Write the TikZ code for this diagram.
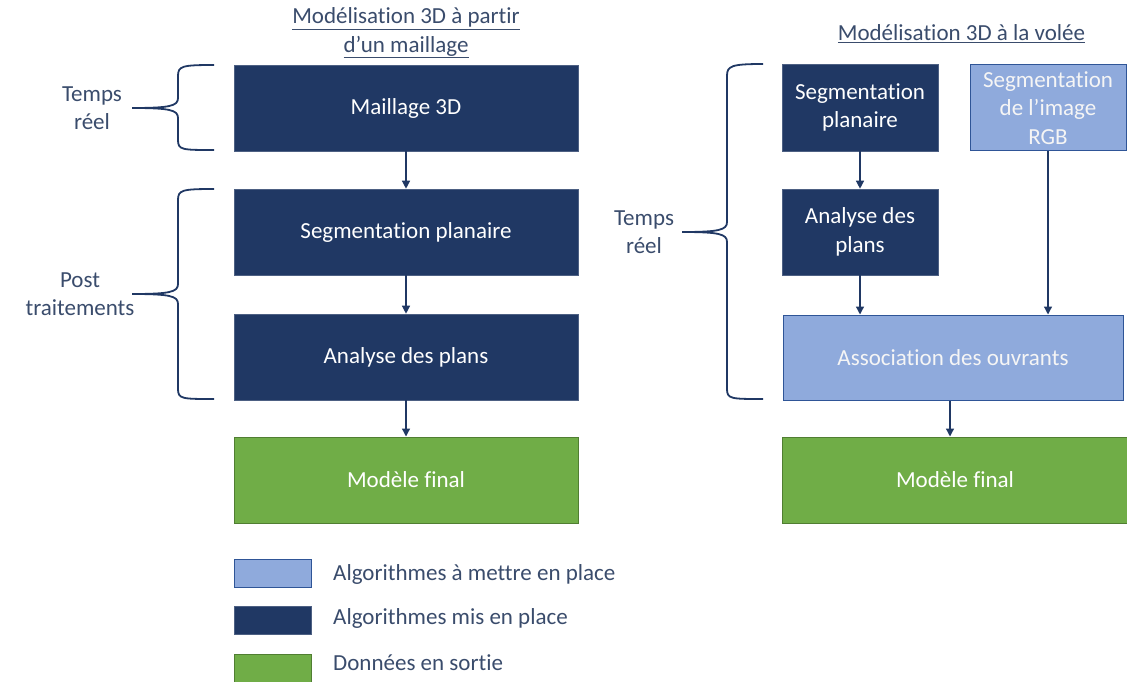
\documentclass[tikz,border=0pt]{standalone}
\usepackage{fontspec}
\setmainfont{Carlito}[Ligatures={NoCommon}]
\usetikzlibrary{arrows.meta}
\definecolor{navy}{HTML}{203864}
\definecolor{lightb}{HTML}{8FAADC}
\definecolor{lightedge}{HTML}{2F5597}
\definecolor{grn}{HTML}{70AD47}
\definecolor{grnedge}{HTML}{507E32}
\definecolor{lbl}{HTML}{3A4C6C}
\tikzset{
  base/.style={rectangle, inner sep=0pt, align=center, text=white, font=\fontsize{23}{28.5}\selectfont},
  dark/.style={base, fill=navy, draw=navy!80!white, line width=0.6pt},
  light/.style={base, fill=lightb, draw=lightedge, line width=1pt, text=white!96!black},
  green/.style={base, fill=grn, draw=grnedge, line width=1pt},
  conn/.style={draw=navy, line width=1.3pt, -{Triangle[width=8pt,length=8pt]}},
  lab/.style={align=center, text=lbl, font=\fontsize{23}{28.5}\selectfont},
  brace/.style={draw=navy, line width=1.8pt},
  legtext/.style={anchor=west, text=lbl, inner sep=0pt, font=\fontsize{23}{28}\selectfont}
}
\begin{document}
\begin{tikzpicture}[x=1pt,y=-1pt]
\useasboundingbox (0,0) rectangle (1127,682);
% titles
\node[lab] (t1) at (406,33) {\underline{Modélisation 3D à partir}\\\underline{d’un maillage}};
\node[lab] (t2) at (961.5,34) {\underline{Modélisation 3D à la volée}};
% left column
\node[dark, minimum width=344pt, minimum height=86pt] (m3d) at (406,108) {Maillage 3D};
\node[dark, minimum width=344pt, minimum height=86pt] (segL) at (406,232) {Segmentation planaire};
\node[dark, minimum width=344pt, minimum height=86pt] (anaL) at (406,357) {Analyse des plans};
\node[green, minimum width=344pt, minimum height=86pt] (finL) at (406,480) {Modèle final};
% right column
\node[dark, minimum width=156pt, minimum height=87pt] (segR) at (860,107.5) {Segmentation\\planaire};
\node[light, minimum width=156pt, minimum height=86pt] (rgb) at (1048,108) {Segmentation\\de l’image\\RGB};
\node[dark, minimum width=156pt, minimum height=86pt] (anaR) at (860,232) {Analyse des\\plans};
\node[light, minimum width=340pt, minimum height=85pt] (assoc) at (953,357.5) {Association des ouvrants};
\node[green, minimum width=346pt, minimum height=86pt] (finR) at (955,480) {Modèle final};
% connectors
\draw[conn] (m3d.south) -- (segL.north);
\draw[conn] (segL.south) -- (anaL.north);
\draw[conn] (anaL.south) -- (finL.north);
\draw[conn] (segR.south) -- (anaR.north);
\draw[conn] (anaR.south) -- (anaR.south |- assoc.north);
\draw[conn] (rgb.south) -- (rgb.south |- assoc.north);
\draw[conn] ([xshift=-3pt]assoc.south) -- ([xshift=-3pt]assoc.south |- finR.north);
% brace labels
\node[lab] (lb1) at (92,108) {Temps\\réel};
\node[lab] (lb2) at (80,294) {Post\\traitements};
\node[lab] (lb3) at (644,232) {Temps\\réel};
% braces
\draw[brace] (214,65) .. controls (182,65) and (178,66) .. (178,76) -- (178,98)
  .. controls (178,106) and (170,108) .. (132,108)
  .. controls (170,108) and (178,110) .. (178,118) -- (178,140)
  .. controls (178,150) and (182,150) .. (214,150);
\draw[brace] (214,189) .. controls (182,189) and (178,190) .. (178,200) -- (178,284)
  .. controls (178,292) and (170,294) .. (132,294)
  .. controls (170,294) and (178,296) .. (178,304) -- (178,389)
  .. controls (178,399) and (182,399) .. (214,399);
\draw[brace] (763,64) .. controls (731,64) and (727,66) .. (727,76) -- (727,222)
  .. controls (727,230) and (719,232) .. (682,232)
  .. controls (719,232) and (727,234) .. (727,242) -- (727,389)
  .. controls (727,399) and (731,399) .. (763,399);
% legend
\node[light, line width=0.6pt, minimum width=77pt, minimum height=28pt] (k1) at (272.5,573) {};
\node[dark, minimum width=77pt, minimum height=28pt] (k2) at (272.5,620) {};
\node[green, line width=0.6pt, minimum width=77pt, minimum height=28pt] (k3) at (272.5,668) {};
\node[legtext] (k1t) at (333,574) {Algorithmes à mettre en place};
\node[legtext] (k2t) at (333,618) {Algorithmes mis en place};
\node[legtext] (k3t) at (333,663) {Données en sortie};
\end{tikzpicture}
\end{document}
